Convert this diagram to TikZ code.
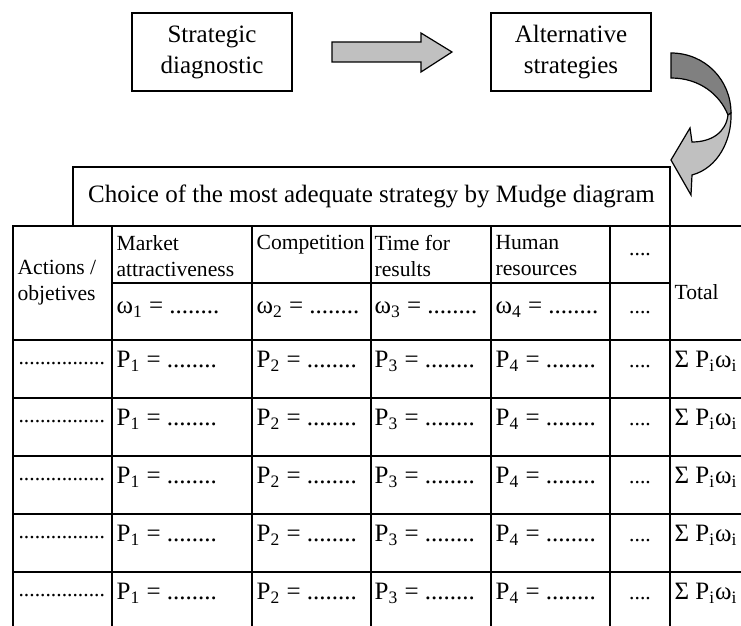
\documentclass[tikz,border=0pt]{standalone}
\usepackage{fontspec}
\setmainfont{Liberation Serif}
\usetikzlibrary{positioning}
\definecolor{arrow_light}{RGB}{192,192,192}
\definecolor{arrow_dark}{RGB}{128,128,128}

\begin{document}
\begin{tikzpicture}[x=0.5pt, y=-0.5pt, line width=0.6pt,
    font=\fontsize{12.5}{15.5}\selectfont,
    box/.style={draw, minimum width=80pt, minimum height=39pt, align=center, inner sep=0pt},
    headtext/.style={font=\fontsize{10.8}{13}\selectfont, align=left, inner sep=0pt},
    cell/.style={anchor=base west, inner sep=0pt},
    blockarrow/.style={draw, line join=miter}]

      \useasboundingbox (0,0) rectangle (741,626);

      % 1. Cajas de arriba
      \node[box] (diag) at (212,52) {Strategic\\diagnostic};
      \node[box] (alter) at (571,52) {Alternative\\strategies};

      % 2. Flechas (recta y curva)
      \filldraw[blockarrow, fill=arrow_light] (332,42) -- (421,42) -- (421,33) -- (452,52)
        -- (421,72) -- (421,62) -- (332,62) -- cycle;
      \filldraw[blockarrow, fill=arrow_dark] (671,53) .. controls (705,53) and (731,80) .. (731,113)
        -- (728,115) .. controls (720,95) and (700,78) .. (671,78) -- cycle;
      \filldraw[blockarrow, fill=arrow_light] (731,113) .. controls (732,140) and (718,168) .. (692,175)
        -- (691,195) -- (671,160) -- (690,128) -- (692,142)
        .. controls (712,142) and (726,132) .. (728,115) -- cycle;

      % 3. Titulo de la tabla
      \node[draw, minimum width=298.5pt, minimum height=29.5pt, inner sep=0pt] (choice) at (371.5,196.5)
        {Choice of the most adequate strategy by Mudge diagram};

      % 4. Lineas de la tabla
      \draw (13,626) -- (13,226) -- (741,226);
      \foreach \x in {112,252,371,491,610,670}
        \draw (\x,226) -- (\x,626);
      \draw (112,283) -- (670,283);
      \foreach \y in {340,398,456,514,572}
        \draw (13,\y) -- (741,\y);

      % 5. Cabecera
      \node[headtext, anchor=west] (actions) at (17,282.5) {Actions /\\objetives};
      \node[headtext, anchor=north west] (market) at (116,235) {Market\\attractiveness};
      \node[headtext, anchor=north west] (compet) at (256,235) {Competition};
      \node[headtext, anchor=north west] (time) at (374,235) {Time for\\results};
      \node[headtext, anchor=north west] (human) at (495,235) {Human\\resources};
      \node[headtext, anchor=base] (more) at (640,256) {....};
      \node[headtext, anchor=base west] (total) at (674,300) {Total};

      \node[cell] (w1) at (116,314) {ω\textsubscript{1} = ........};
      \node[cell] (w2) at (256,314) {ω\textsubscript{2} = ........};
      \node[cell] (w3) at (374,314) {ω\textsubscript{3} = ........};
      \node[cell] (w4) at (495,314) {ω\textsubscript{4} = ........};
      \node[headtext, anchor=base] (wmore) at (640,314) {....};

      % 6. Filas
      \foreach \r [count=\k] in {340,398,456,514,572} {
        \node[cell, headtext] (act-\k) at (18,\r+25) {................};
        \node[cell] (p1-\k) at (116,\r+28) {P\textsubscript{1} = ........};
        \node[cell] (p2-\k) at (256,\r+28) {P\textsubscript{2} = ........};
        \node[cell] (p3-\k) at (374,\r+28) {P\textsubscript{3} = ........};
        \node[cell] (p4-\k) at (495,\r+28) {P\textsubscript{4} = ........};
        \node[headtext, anchor=base] (more-\k) at (640,\r+28) {....};
        \node[cell] (sum-\k) at (674,\r+28) {Σ P\textsubscript{i}ω\textsubscript{i}};
      }

    \end{tikzpicture}
\end{document}
